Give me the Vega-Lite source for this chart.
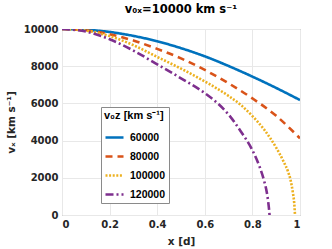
{
  "$schema": "https://vega.github.io/schema/vega-lite/v6.json",
  "width": 238,
  "height": 186,
  "autosize": {"type": "none"},
  "padding": {"left": 62, "top": 29, "right": 32, "bottom": 34},
  "background": "white",
  "title": {"text": "v₀ₓ=10000 km s⁻¹", "font": "DejaVu Sans", "fontSize": 11.5, "fontWeight": "bold", "color": "#000000", "offset": 9, "anchor": "middle"},
  "config": {
    "view": {"stroke": "#8a8a8a", "strokeWidth": 1},
    "axis": {
      "domain": false,
      "ticks": false,
      "grid": true,
      "gridColor": "#e8e8e8",
      "gridWidth": 1,
      "labelFont": "DejaVu Sans",
      "labelFontSize": 10,
      "labelFontWeight": "bold",
      "labelColor": "#262626",
      "titleFont": "DejaVu Sans",
      "titleFontSize": 10.5,
      "titleFontWeight": "bold",
      "titleColor": "#262626"
    }
  },
  "data": {
    "values": [
      {"x": 0, "v": 10000, "s": "60000"},
      {"x": 0.1, "v": 9960, "s": "60000"},
      {"x": 0.2, "v": 9840, "s": "60000"},
      {"x": 0.3, "v": 9630, "s": "60000"},
      {"x": 0.4, "v": 9340, "s": "60000"},
      {"x": 0.5, "v": 8970, "s": "60000"},
      {"x": 0.6, "v": 8530, "s": "60000"},
      {"x": 0.7, "v": 8010, "s": "60000"},
      {"x": 0.8, "v": 7440, "s": "60000"},
      {"x": 0.9, "v": 6830, "s": "60000"},
      {"x": 1.0, "v": 6180, "s": "60000"},
      {"x": 0, "v": 10000, "s": "80000"},
      {"x": 0.1, "v": 9930, "s": "80000"},
      {"x": 0.2, "v": 9720, "s": "80000"},
      {"x": 0.3, "v": 9380, "s": "80000"},
      {"x": 0.4, "v": 8930, "s": "80000"},
      {"x": 0.5, "v": 8420, "s": "80000"},
      {"x": 0.6, "v": 7800, "s": "80000"},
      {"x": 0.7, "v": 7080, "s": "80000"},
      {"x": 0.8, "v": 6270, "s": "80000"},
      {"x": 0.9, "v": 5330, "s": "80000"},
      {"x": 1.0, "v": 4120, "s": "80000"},
      {"x": 0, "v": 10000, "s": "100000"},
      {"x": 0.1, "v": 9920, "s": "100000"},
      {"x": 0.2, "v": 9620, "s": "100000"},
      {"x": 0.3, "v": 9130, "s": "100000"},
      {"x": 0.4, "v": 8500, "s": "100000"},
      {"x": 0.5, "v": 7870, "s": "100000"},
      {"x": 0.6, "v": 7180, "s": "100000"},
      {"x": 0.7, "v": 6400, "s": "100000"},
      {"x": 0.75, "v": 5930, "s": "100000"},
      {"x": 0.8, "v": 5320, "s": "100000"},
      {"x": 0.85, "v": 4580, "s": "100000"},
      {"x": 0.9, "v": 3620, "s": "100000"},
      {"x": 0.93, "v": 2900, "s": "100000"},
      {"x": 0.95, "v": 2320, "s": "100000"},
      {"x": 0.96, "v": 1900, "s": "100000"},
      {"x": 0.97, "v": 1200, "s": "100000"},
      {"x": 0.976, "v": 600, "s": "100000"},
      {"x": 0.979, "v": 0, "s": "100000"},
      {"x": 0, "v": 10000, "s": "120000"},
      {"x": 0.1, "v": 9860, "s": "120000"},
      {"x": 0.2, "v": 9450, "s": "120000"},
      {"x": 0.3, "v": 8840, "s": "120000"},
      {"x": 0.4, "v": 8100, "s": "120000"},
      {"x": 0.5, "v": 7350, "s": "120000"},
      {"x": 0.6, "v": 6550, "s": "120000"},
      {"x": 0.65, "v": 6050, "s": "120000"},
      {"x": 0.7, "v": 5400, "s": "120000"},
      {"x": 0.75, "v": 4520, "s": "120000"},
      {"x": 0.8, "v": 3480, "s": "120000"},
      {"x": 0.83, "v": 2600, "s": "120000"},
      {"x": 0.85, "v": 1800, "s": "120000"},
      {"x": 0.86, "v": 1250, "s": "120000"},
      {"x": 0.866, "v": 750, "s": "120000"},
      {"x": 0.87, "v": 300, "s": "120000"},
      {"x": 0.872, "v": 0, "s": "120000"}
    ]
  },
  "mark": {"type": "line", "strokeWidth": 2.6, "interpolate": "monotone", "strokeCap": "butt", "clip": true},
  "encoding": {
    "x": {
      "field": "x", "type": "quantitative",
      "scale": {"domain": [0, 1], "nice": false},
      "axis": {"title": "x [d]", "values": [0, 0.2, 0.4, 0.6, 0.8, 1], "format": "~g", "labelPadding": 4, "titlePadding": 7}
    },
    "y": {
      "field": "v", "type": "quantitative",
      "scale": {"domain": [0, 10000], "nice": false},
      "axis": {"title": "vₓ [km s⁻¹]", "values": [0, 2000, 4000, 6000, 8000, 10000], "format": "d", "labelPadding": 4, "titlePadding": 7}
    },
    "color": {
      "field": "s", "type": "nominal",
      "scale": {"domain": ["60000", "80000", "100000", "120000"], "range": ["#0072BD", "#D95319", "#EDB120", "#7E2F8E"]},
      "legend": {
        "title": "v₀z [km s⁻¹]",
        "orient": "none", "legendX": 39, "legendY": 78,
        "symbolType": "stroke", "symbolSize": 324, "symbolStrokeWidth": 2.6,
        "fillColor": "white", "strokeColor": "#8a8a8a", "padding": 3,
        "titleFont": "Liberation Sans", "titleFontSize": 11, "titleFontWeight": "bold", "titleColor": "#000000", "titlePadding": 6,
        "labelFont": "Liberation Sans", "labelFontSize": 10.5, "labelFontWeight": "bold", "labelColor": "#000000", "labelOffset": 5,
        "rowPadding": 3
      }
    },
    "strokeDash": {
      "field": "s", "type": "nominal",
      "scale": {"domain": ["60000", "80000", "100000", "120000"], "range": [[1, 0], [7, 5], [2, 1.6], [8, 3, 2, 3]]},
      "legend": {
        "title": "v₀z [km s⁻¹]",
        "orient": "none", "legendX": 39, "legendY": 78,
        "symbolType": "stroke", "symbolSize": 324, "symbolStrokeWidth": 2.6,
        "fillColor": "white", "strokeColor": "#8a8a8a", "padding": 3,
        "titleFont": "Liberation Sans", "titleFontSize": 11, "titleFontWeight": "bold", "titleColor": "#000000", "titlePadding": 6,
        "labelFont": "Liberation Sans", "labelFontSize": 10.5, "labelFontWeight": "bold", "labelColor": "#000000", "labelOffset": 5,
        "rowPadding": 3
      }
    }
  }
}
